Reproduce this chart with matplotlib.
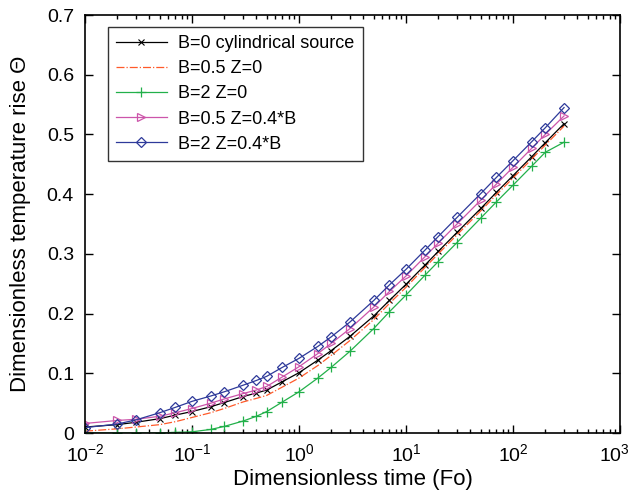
import matplotlib
matplotlib.use("Agg")
import matplotlib.pyplot as plt
import matplotlib.transforms as mtransforms

plt.rcParams['font.family'] = ['Liberation Sans', 'DejaVu Sans']
plt.rcParams['mathtext.default'] = 'regular'

# --- Data (Fo, Theta) ---
fo = [0.01, 0.02, 0.03, 0.05, 0.07, 0.1, 0.15, 0.2, 0.3, 0.4, 0.5, 0.7, 1,
      1.5, 2, 3, 5, 7, 10, 15, 20, 30, 50, 70, 100, 150, 200, 300]

b0_cyl = [0.010, 0.014, 0.018, 0.024, 0.030, 0.036, 0.044, 0.051, 0.061, 0.067,
          0.072, 0.086, 0.101, 0.122, 0.138, 0.162, 0.196, 0.222, 0.249, 0.281,
          0.304, 0.336, 0.376, 0.403, 0.431, 0.463, 0.486, 0.518]
b05_z0 = [0.003, 0.007, 0.010, 0.014, 0.019, 0.026, 0.034, 0.041, 0.052, 0.058,
          0.063, 0.077, 0.092, 0.113, 0.130, 0.155, 0.190, 0.217, 0.244, 0.277,
          0.300, 0.332, 0.372, 0.399, 0.427, 0.459, 0.482, 0.514]
b2_z0 = [0.000, 0.000, 0.000, 0.000, 0.001, 0.002, 0.006, 0.011, 0.020, 0.028,
         0.036, 0.052, 0.069, 0.092, 0.110, 0.137, 0.175, 0.203, 0.231, 0.264,
         0.287, 0.319, 0.360, 0.387, 0.415, 0.447, 0.470, 0.487]
b05_z04 = [0.016, 0.021, 0.023, 0.028, 0.034, 0.041, 0.050, 0.057, 0.066, 0.072,
           0.078, 0.094, 0.111, 0.133, 0.150, 0.175, 0.211, 0.237, 0.263, 0.295,
           0.318, 0.350, 0.390, 0.417, 0.445, 0.477, 0.500, 0.531]
b2_z04 = [0.009, 0.015, 0.022, 0.034, 0.043, 0.053, 0.062, 0.069, 0.080, 0.088,
          0.095, 0.110, 0.125, 0.145, 0.161, 0.186, 0.222, 0.248, 0.274, 0.306,
          0.329, 0.361, 0.401, 0.428, 0.456, 0.488, 0.511, 0.545]

labels = ["B=0 cylindrical source", "B=0.5 Z=0", "B=2 Z=0",
          "B=0.5 Z=0.4*B", "B=2 Z=0.4*B"]

fig = plt.figure(figsize=(6.32, 5.0), dpi=100)
ax = fig.add_axes([0.1345, 0.134, 0.8465, 0.836])

ax.plot(fo, b0_cyl, color='black', lw=0.9, marker='x', ms=4, mew=0.8,
        label=labels[0])
ax.plot(fo, b05_z0, color='#FF5A2A', lw=0.9, ls='-.', label=labels[1])
ax.plot(fo, b2_z0, color='#22B04A', lw=0.9, marker='+', ms=7, mew=0.9,
        label=labels[2])
ax.plot(fo, b05_z04, color='#CC55AA', lw=0.9, marker='>', ms=6, mew=0.9,
        mfc='none', label=labels[3])
ax.plot(fo, b2_z04, color='#2E3A9A', lw=0.9, marker='D', ms=5, mew=0.9,
        mfc='none', label=labels[4])

ax.set_xscale('log')
ax.set_xlim(1e-2, 1e3)
ax.set_ylim(0, 0.7)
ax.set_xticks([1e-2, 1e-1, 1e0, 1e1, 1e2, 1e3])
ax.set_xticklabels(["$10^{-2}$", "$10^{-1}$", "$10^{0}$", "$10^{1}$",
                    "$10^{2}$", "$10^{3}$"])
ax.set_yticks([0, 0.1, 0.2, 0.3, 0.4, 0.5, 0.6, 0.7])
ax.set_yticklabels(["0", "0.1", "0.2", "0.3", "0.4", "0.5", "0.6", "0.7"])
ax.tick_params(which='both', direction='in', top=True, right=True,
               labelsize=14, width=1)
ax.tick_params(which='major', length=6)
ax.tick_params(axis='y', pad=8)
ax.tick_params(axis='x', pad=7)
ax.tick_params(which='minor', length=3)
for s in ax.spines.values():
    s.set_linewidth(1.2)

# keep the last x tick label inside the figure
last = ax.get_xticklabels()[-1]
last.set_transform(last.get_transform() +
                   mtransforms.ScaledTranslation(-0.06, 0, fig.dpi_scale_trans))

ax.set_xlabel("Dimensionless time (Fo)", fontsize=16, labelpad=3)
ax.set_ylabel("Dimensionless temperature rise \u0398", fontsize=16, labelpad=11)

leg = ax.legend(loc='upper left', bbox_to_anchor=(0.043, 0.971), fontsize=13,
                handlelength=2.8, frameon=True, fancybox=False,
                borderpad=0.45, labelspacing=0.45, handletextpad=0.65,
                borderaxespad=0)
leg.get_frame().set_edgecolor('black')
leg.get_frame().set_linewidth(1.0)

fig.savefig("out.png", dpi=100)
